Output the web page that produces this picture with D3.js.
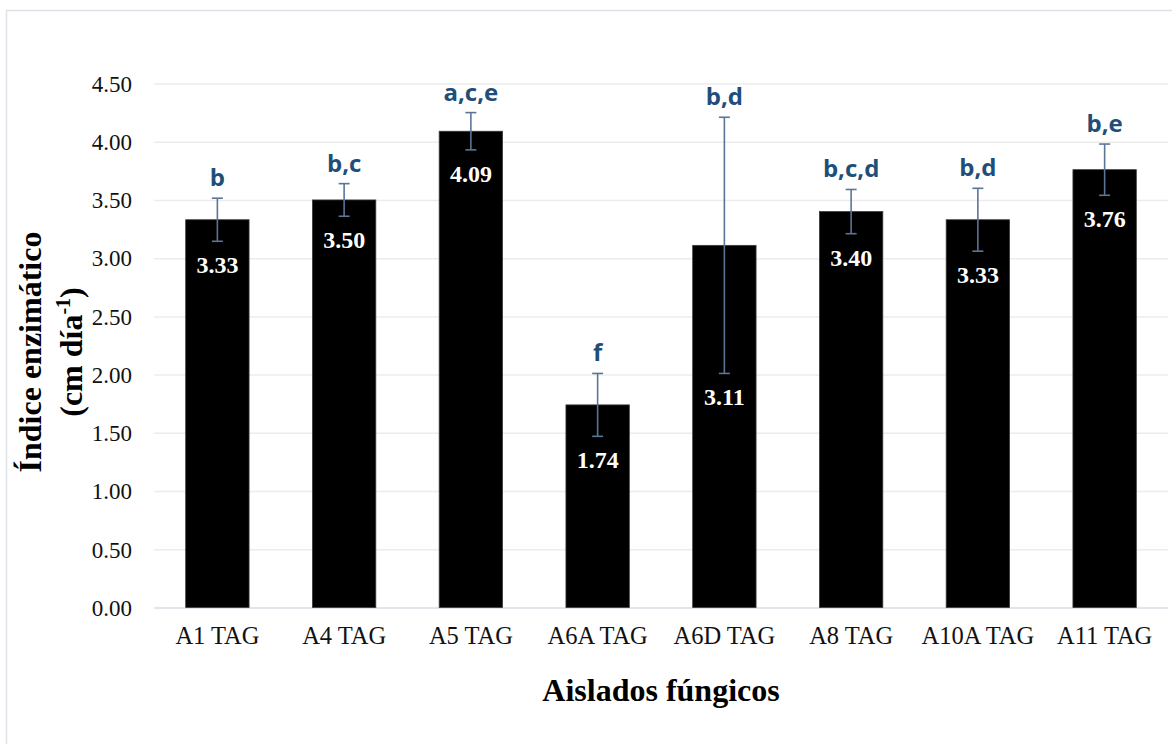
<!DOCTYPE html>
<html>
<head>
<meta charset="utf-8">
<script src="https://cdn.jsdelivr.net/npm/d3@7"></script>
<style>
  body { margin: 0; background: #fff; }
  svg text { font-family: "Liberation Serif", "Times New Roman", serif; }
  .letter { font-family: "Open Sans", sans-serif !important; font-weight: bold; fill: #1f4e79; }
</style>
</head>
<body>
<svg id="chart"></svg>
<script>
// data
var aislados = ["A1 TAG","A4 TAG","A5 TAG","A6A TAG","A6D TAG","A8 TAG","A10A TAG","A11 TAG"]
var indice   = [3.33, 3.50, 4.09, 1.74, 3.11, 3.40, 3.33, 3.76]
var errores  = [0.185, 0.14, 0.16, 0.27, 1.10, 0.19, 0.27, 0.22]
var letras   = ["b","b,c","a,c,e","f","b,d","b,c,d","b,d","b,e"]
var yTicks   = [0,0.5,1,1.5,2,2.5,3,3.5,4,4.5]

var screen = {width:1172, height:744}
var margins = {left:154, right:4, top:83.5, bottom:136.5}
var graph = {
    width: screen.width - margins.left - margins.right,
    height: screen.height - margins.top - margins.bottom
}

var svg = d3.select("#chart")
    .attr("width", screen.width)
    .attr("height", screen.height)

// outer frame
svg.append("rect")
   .attr("x", 6.5).attr("y", 10.5)
   .attr("width", 1200).attr("height", 800)
   .attr("fill", "none")
   .attr("stroke", "#dde1e8")
   .attr("stroke-width", 1.5)

var target = svg.append("g")
    .attr("transform", "translate(" + margins.left + "," + margins.top + ")")

var xScale = d3.scaleBand()
    .domain(aislados)
    .range([0, graph.width])
    .paddingInner(0.5)
    .paddingOuter(0.25)

var yScale = d3.scaleLinear()
    .domain([0, 4.5])
    .range([graph.height, 0])

//gridlines + y tick labels
var yAxis = d3.axisLeft(yScale)
    .tickValues(yTicks)
    .tickFormat(d3.format(".2f"))
    .tickSize(-graph.width)
    .tickPadding(22)

var yg = target.append("g").call(yAxis)
yg.select(".domain").remove()
yg.selectAll(".tick line")
  .attr("stroke", function(d) { return d === 0 ? "#d9dce3" : "#ececec" })
  .attr("stroke-width", 1.5)
yg.selectAll(".tick text")
  .attr("fill", "#111")
  .style("font-size", "23px")
  .attr("dy", "0.34em")

//x axis labels
var xAxis = d3.axisBottom(xScale).tickSize(0).tickPadding(19)
var xg = target.append("g")
    .attr("transform", "translate(0," + graph.height + ")")
    .call(xAxis)
xg.select(".domain").remove()
xg.selectAll(".tick text")
  .attr("fill", "#111")
  .style("font-size", "24.5px")

var rows = aislados.map(function(a, i) {
    return {name:a, value:indice[i], err:errores[i], letra:letras[i]}
})

//bars
target.selectAll("rect.bar")
      .data(rows)
      .enter()
      .append("rect")
      .attr("class", "bar")
      .attr("x", function(d) { return xScale(d.name) })
      .attr("y", function(d) { return yScale(d.value) })
      .attr("width", xScale.bandwidth())
      .attr("height", function(d) { return graph.height - yScale(d.value) })
      .attr("fill", "#000")
      .attr("stroke", "#3a3a3a")
      .attr("stroke-width", 0.8)

//error bars
var errG = target.selectAll("g.err")
      .data(rows)
      .enter()
      .append("g")
      .attr("class", "err")
      .attr("transform", function(d) { return "translate(" + (xScale(d.name) + xScale.bandwidth()/2) + ",0)" })
      .attr("stroke", "#5b7598")
      .attr("stroke-width", 1.6)

errG.append("line")
    .attr("x1", 0).attr("x2", 0)
    .attr("y1", function(d) { return yScale(d.value + d.err) })
    .attr("y2", function(d) { return yScale(d.value - d.err) })
errG.append("line")
    .attr("x1", -5.5).attr("x2", 5.5)
    .attr("y1", function(d) { return yScale(d.value + d.err) })
    .attr("y2", function(d) { return yScale(d.value + d.err) })
errG.append("line")
    .attr("x1", -5.5).attr("x2", 5.5)
    .attr("y1", function(d) { return yScale(d.value - d.err) })
    .attr("y2", function(d) { return yScale(d.value - d.err) })

//value labels inside the bars
target.selectAll("text.val")
      .data(rows)
      .enter()
      .append("text")
      .attr("class", "val")
      .text(function(d) { return d.value.toFixed(2) })
      .attr("text-anchor", "middle")
      .attr("x", function(d) { return xScale(d.name) + xScale.bandwidth()/2 })
      .attr("y", function(d) { return Math.min(yScale(d.value - d.err) + 32, graph.height - 10) })
      .attr("fill", "#fff")
      .style("font-size", "24px")
      .style("font-weight", "bold")

//significance letters
target.selectAll("text.letter")
      .data(rows)
      .enter()
      .append("text")
      .attr("class", "letter")
      .text(function(d) { return d.letra })
      .attr("text-anchor", "middle")
      .attr("x", function(d) { return xScale(d.name) + xScale.bandwidth()/2 })
      .attr("y", function(d) { return yScale(d.value + d.err) - 12 })
      .style("font-size", "24px")

//axis titles
var labels = svg.append("g")

labels.append("text")
      .text("Aislados fúngicos")
      .attr("text-anchor", "middle")
      .attr("x", margins.left + graph.width/2)
      .attr("y", 701)
      .style("font-size", "32px")
      .style("font-weight", "bold")
      .attr("fill", "#000")

var yt = labels.append("text")
      .attr("transform", "translate(41," + 352 + ") rotate(-90)")
      .attr("text-anchor", "middle")
      .style("font-size", "32px")
      .style("font-weight", "bold")
      .attr("fill", "#000")
yt.append("tspan").attr("x", 0).attr("y", 0).text("Índice enzimático")
var t2 = yt.append("tspan").attr("x", 0).attr("y", 41)
t2.append("tspan").text("(cm día")
t2.append("tspan").text("-1").attr("dy", -12).style("font-size", "20px")
t2.append("tspan").text(")").attr("dy", 12)
</script>
</body>
</html>
